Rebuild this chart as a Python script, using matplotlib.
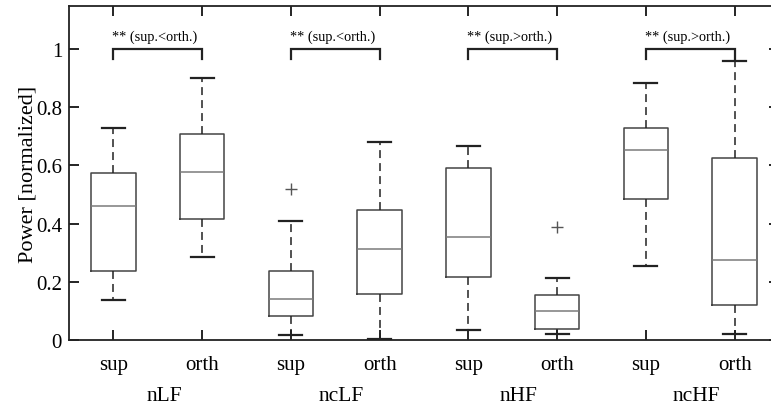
import matplotlib
matplotlib.use("Agg")
import matplotlib.pyplot as plt

# box statistics (sup / orth for each band)
groups = ["nLF", "ncLF", "nHF", "ncHF"]
conds = ["sup", "orth"] * 4
whis_hi = [0.729, 0.900, 0.408, 0.679, 0.667, 0.213, 0.885, 0.958]
q3 = [0.574, 0.708, 0.238, 0.448, 0.591, 0.156, 0.729, 0.625]
med = [0.460, 0.577, 0.141, 0.313, 0.355, 0.099, 0.654, 0.275]
q1 = [0.238, 0.416, 0.084, 0.157, 0.215, 0.038, 0.485, 0.119]
whis_lo = [0.136, 0.285, 0.018, 0.003, 0.035, 0.019, 0.255, 0.019]
fliers = [[], [], [0.520], [], [], [0.387], [], []]
sig_labels = ["** (sup.<orth.)", "** (sup.<orth.)", "** (sup.>orth.)", "** (sup.>orth.)"]

plt.rcParams["font.family"] = ["Liberation Serif", "DejaVu Serif"]

fig = plt.figure(figsize=(7.71, 4.10), dpi=100)
ax = fig.add_axes([0.0895, 0.1683, 0.9209, 0.8146])

stats = []
for i in range(len(med)):
    stats.append(dict(med=med[i], q1=q1[i], q3=q3[i], whislo=whis_lo[i],
                      whishi=whis_hi[i], fliers=fliers[i]))

pos = list(range(1, len(med) + 1))
ax.bxp(stats, positions=pos, widths=0.5, capwidths=0.26, showfliers=True,
       boxprops=dict(color="#444444", linewidth=1.1),
       medianprops=dict(color="#7a7a7a", linewidth=1.1),
       whiskerprops=dict(color="#222222", linewidth=1.1, linestyle=(0, (5.2, 3.3))),
       capprops=dict(color="#222222", linewidth=1.6),
       flierprops=dict(marker="+", markeredgecolor="#555555", markersize=8,
                       markeredgewidth=1.0, linestyle="none"))

# significance brackets
for g in range(len(groups)):
    x0, x1 = pos[2 * g], pos[2 * g + 1]
    ax.plot([x0, x0, x1, x1], [0.967, 1.0, 1.0, 0.967], color="#222222", lw=1.6,
            solid_joinstyle="miter")
    ax.text(x0 - 0.01, 1.043, sig_labels[g], ha="left", va="center", fontsize=10.3)

ax.set_xlim(0.5, 8.5)
ax.set_ylim(0, 1.148)
ax.set_yticks([0, 0.2, 0.4, 0.6, 0.8, 1.0])
ax.set_yticklabels(["0", "0.2", "0.4", "0.6", "0.8", "1"])
ax.set_xticks(pos)
ax.set_xticklabels(conds)
ax.tick_params(direction="in", length=7.5, width=1.2, labelsize=15, top=True,
               right=True, pad=5)
ax.tick_params(axis="x", pad=11)
for s in ax.spines.values():
    s.set_linewidth(1.3)
    s.set_color("#222222")
ax.set_ylabel("Power [normalized]", fontsize=16, labelpad=-1)

for g, name in enumerate(groups):
    xc = (pos[2 * g] + pos[2 * g + 1]) / 2 + 0.07
    ax.text(xc, -0.19, name, ha="center", va="center", fontsize=15.5,
            clip_on=False)

fig.savefig("out.png", dpi=100)
